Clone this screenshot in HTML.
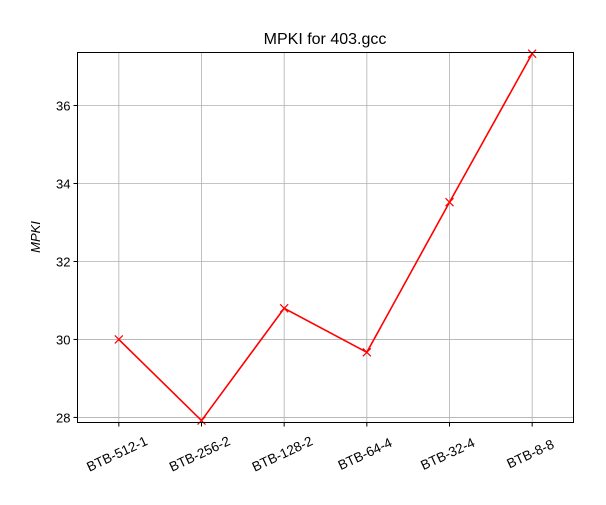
<!DOCTYPE html>
<html><head><meta charset="utf-8"><style>body{margin:0;background:#fff}svg{display:block;font-family:"Liberation Sans","DejaVu Sans",sans-serif}</style></head>
<body>
<svg id="chart" width="606" height="505" viewBox="0 0 606 505">
<rect width="606" height="505" fill="#fff"/>
<text x="325" y="44" text-anchor="middle" font-size="16">MPKI for 403.gcc</text>
<g id="grid"></g>
<g id="marks"></g>
<rect x="77.5" y="52.5" width="496" height="370" fill="none" stroke="#000" stroke-width="1"/>
<g id="axes"></g>
<text transform="translate(40,237) rotate(-90)" text-anchor="middle" font-size="13" font-style="italic">MPKI</text>
</svg>
<script>
const categories = ["BTB-512-1","BTB-256-2","BTB-128-2","BTB-64-4","BTB-32-4","BTB-8-8"];
const mpkiValues = [30.0, 27.92, 30.8, 29.67, 33.52, 37.33];
const yTicks = [28, 30, 32, 34, 36];
const yMin = 27.87, yMax = 37.36;
const L=77.5,R=573.5,T=52.5,B=422.5;
const NS="http://www.w3.org/2000/svg";
function xs(i){return L+(i+0.5)*(R-L)/categories.length;}
function ys(v){return B-(v-yMin)/(yMax-yMin)*(B-T);}
function mk(tag,attrs,parent){const e=document.createElementNS(NS,tag);for(const k in attrs)e.setAttribute(k,attrs[k]);parent.appendChild(e);return e;}
const grid=document.getElementById('grid'),axes=document.getElementById('axes'),marks=document.getElementById('marks');
categories.forEach((c,i)=>{
  const x=xs(i);
  const g=mk('line',{x1:x,x2:x,y1:T,y2:B,stroke:'#b0b0b0','stroke-width':0.8},grid);
  
  
  const t=mk('line',{x1:x,x2:x,y1:B,y2:B+4,stroke:'#000'},axes);
  
  
  const cx=x-2;
  const lb=mk('text',{x:cx,y:B+36,'font-size':13.5,'text-anchor':'middle',transform:`rotate(-25 ${cx} ${B+31})`},axes);
  lb.textContent=c;
  
  
});
yTicks.forEach(v=>{
  const y=ys(v);
  const g=mk('line',{x1:L,x2:R,y1:y,y2:y,stroke:'#b0b0b0','stroke-width':0.8},grid);
  
  
  const t=mk('line',{x1:L-4,x2:L,y1:y,y2:y,stroke:'#000'},axes);
  
  
  const lb=mk('text',{x:L-7,y:y+5,'font-size':13,'text-anchor':'end'},axes);
  lb.textContent=v;
  
  
});
const pts=mpkiValues.map((v,i)=>xs(i)+','+ys(v)).join(' ');
const line=mk('polyline',{points:pts,fill:'none',stroke:'#ff0000','stroke-width':1.6},marks);


mpkiValues.forEach((v,i)=>{
  const x=xs(i),y=ys(v);
  const p=mk('path',{d:`M${x-4} ${y-4}L${x+4} ${y+4}M${x-4} ${y+4}L${x+4} ${y-4}`,stroke:'#ff0000','stroke-width':1.2},marks);
  
  
});
</script>
</body></html>
